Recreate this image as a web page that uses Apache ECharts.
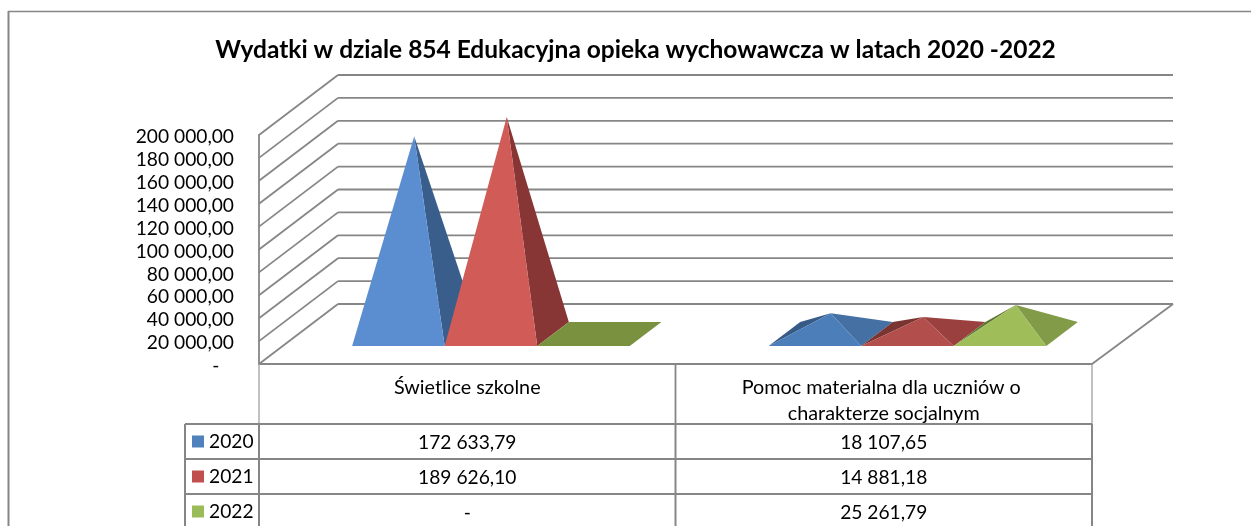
<!DOCTYPE html>
<html>
<head>
<meta charset="utf-8">
<style>html,body{margin:0;padding:0;background:#fff;overflow:hidden}#c{width:1251px;height:526px}</style>
<script src="https://cdn.jsdelivr.net/npm/echarts@6/dist/echarts.min.js"></script>
</head>
<body>
<div id="c"></div>
<script>
var titleText = 'Wydatki w dziale 854 Edukacyjna opieka wychowawcza w latach 2020 -2022';
var categories = ['Świetlice szkolne', 'Pomoc materialna dla uczniów o charakterze socjalnym'];
var years = ['2020', '2021', '2022'];
var values2020 = [172633.79, 18107.65];
var values2021 = [189626.10, 14881.18];
var values2022 = [0, 25261.79];
var yTicks = [0, 20000, 40000, 60000, 80000, 100000, 120000, 140000, 160000, 180000, 200000];

var seriesValues = [values2020, values2021, values2022];
var FONT = 'Lato, Carlito, sans-serif';
var FS = 19.2;
var GRAY = '#868686';
var DX = 79, DY = -60;            // oblique depth of the 3D box
var NEAR = 0.3, FAR = 0.7;        // where the pyramid bases sit within the depth
var ROW_TOP = 424, ROW_H = 35, LEGEND_LEFT = 185;
var shades = [
  {front:'#5B8ED1', right:'#3A5E8C', frontLow:'#4C7EBA', rightLow:'#4470A4', left:'#375A86', flat:'#4F81BD', key:'#4F81BD'},
  {front:'#D05B57', right:'#873535', frontLow:'#B24E4B', rightLow:'#9A403E', left:'#7A3432', flat:'#C0504D', key:'#C0504D'},
  {front:'#9FBE5A', right:'#819B49', frontLow:'#9FBE5A', rightLow:'#819B49', left:'#5E7534', flat:'#7A9140', key:'#9BBB59'}
];
var LOW = 100000;

function fmt(v){
  if (!v) return '-';
  var p = v.toFixed(2).split('.');
  return p[0].replace(/\B(?=(\d{3})+$)/g, ' ') + ',' + p[1];
}
function poly(points, fill){
  return {type:'polygon', shape:{points:points}, style:{fill:fill, stroke:null}};
}
function line(x1,y1,x2,y2,w,c){
  return {type:'line', shape:{x1:x1,y1:y1,x2:x2,y2:y2}, style:{stroke:c||GRAY, lineWidth:w||1.8, fill:null}};
}
function pyramidRenderer(idx){
  return function(params, api){
    var cat = api.value(0), val = api.value(1), s = shades[idx];
    var w = api.size([1,0])[0] / (years.length + 1.5);
    var base = api.coord([cat, 0]);
    var top = api.coord([cat, val]);
    var left = base[0] + (idx - years.length/2) * w;
    var FL = [left + DX*NEAR, base[1] + DY*NEAR], FR = [FL[0] + w, FL[1]];
    var BL = [left + DX*FAR, base[1] + DY*FAR], BR = [BL[0] + w, BL[1]];
    if (!val) return {type:'group', children:[poly([FL,FR,BR,BL], s.flat)]};
    var A = [left + w/2 + DX*0.5, top[1] + DY*0.5];
    var low = val < LOW, kids = [];
    // the left face only shows when the apex falls below the line through its base edge
    var edgeY = FL[1] + (A[0]-FL[0]) * (BL[1]-FL[1]) / (BL[0]-FL[0]);
    if (A[1] > edgeY) kids.push(poly([FL,BL,A], s.left));
    kids.push(poly([FR,BR,A], low ? s.rightLow : s.right));
    kids.push(poly([FL,FR,A], low ? s.frontLow : s.front));
    return {type:'group', children:kids};
  };
}
function wallsRenderer(params, api){
  var cs = params.coordSys, kids = [];
  yTicks.forEach(function(t){
    var y = api.coord([0,t])[1];
    kids.push(line(cs.x, y, cs.x+DX, y+DY));
    kids.push(line(cs.x+DX, y+DY, cs.x+cs.width+DX+2, y+DY));
  });
  var y0 = api.coord([0,0])[1];
  kids.push(line(cs.x+cs.width, y0, cs.x+cs.width+DX+2, y0+DY));
  return {type:'group', children:kids};
}
function tableRenderer(params, api){
  var cs = params.coordSys, kids = [];
  var bottom = ROW_TOP + ROW_H*years.length;
  var y0 = cs.y + cs.height;
  // header verticals and body verticals at the band boundaries
  for (var i=0;i<=categories.length;i++){
    var x = cs.x + cs.width*i/categories.length;
    var inner = i>0 && i<categories.length;
    kids.push(line(x, y0, x, ROW_TOP, inner?1.8:1.3, inner?GRAY:'#A0A0A0'));
    kids.push(line(x, ROW_TOP, x, bottom, 2));
  }
  kids.push(line(LEGEND_LEFT, ROW_TOP, LEGEND_LEFT, bottom, 2));
  for (var r=0;r<=years.length;r++){
    var y = ROW_TOP + r*ROW_H;
    kids.push(line(LEGEND_LEFT, y, cs.x+cs.width, y, 1.8));
  }
  seriesValues.forEach(function(vals,r){
    vals.forEach(function(v,c){
      kids.push({type:'text', style:{text:fmt(v), x:api.coord([c,0])[0], y:ROW_TOP+ROW_H*r+ROW_H/2+1,
        align:'center', verticalAlign:'middle', fill:'#000', font:FS+'px '+FONT}});
    });
  });
  return {type:'group', children:kids};
}

var series = [
  {name:'walls', type:'custom', coordinateSystem:'cartesian2d', data:[[0,0]], renderItem:wallsRenderer, silent:true, z:1, clip:false, animation:false},
  {name:'table', type:'custom', coordinateSystem:'cartesian2d', data:[[0,0]], renderItem:tableRenderer, silent:true, z:1, clip:false, animation:false}
];
years.forEach(function(y,i){
  series.push({
    name:y, type:'custom', coordinateSystem:'cartesian2d', renderItem:pyramidRenderer(i),
    itemStyle:{color:shades[i].key}, silent:true, z:5+i, clip:false, animation:false,
    data: categories.map(function(c,k){ return [k, seriesValues[i][k]]; })
  });
});

var chart = echarts.init(document.getElementById('c'), null, {renderer:'canvas', width:1251, height:526});
chart.setOption({
  animation:false,
  backgroundColor:'#fff',
  title:{text:titleText, left:630.5, textAlign:'center', top:33,
    textStyle:{fontFamily:FONT, fontWeight:'bold', fontSize:24.5, color:'#000'}},
  legend:{data:years, orient:'vertical', left:192, top:432, itemWidth:12, itemHeight:12, itemGap:16,
    icon:'rect', selectedMode:false, padding:0,
    textStyle:{fontFamily:FONT, fontSize:FS, color:'#000', padding:0}},
  tooltip:{show:false},
  grid:{left:259, top:135, width:833, height:229, containLabel:false},
  xAxis:{type:'category', data:categories, boundaryGap:true,
    axisLine:{show:true, lineStyle:{color:GRAY, width:1.8}}, axisTick:{show:false}, splitLine:{show:false},
    axisLabel:{interval:0, margin:11, width:310, overflow:'break', lineHeight:26, color:'#000', fontFamily:FONT, fontSize:19.8}},
  yAxis:{type:'value', min:0, max:200000, interval:20000,
    axisLine:{show:true, lineStyle:{color:GRAY, width:1.8}}, axisTick:{show:false}, splitLine:{show:false},
    axisLabel:{margin:25, color:'#000', fontFamily:FONT, fontSize:FS, verticalAlign:'top', lineHeight:4,
      formatter:function(v){ return v===0 ? '-   ' : fmt(v); }}},
  graphic:[
    {type:'line', shape:{x1:8,y1:11.5,x2:1251,y2:11.5}, style:{stroke:GRAY,lineWidth:1.5}},
    {type:'line', shape:{x1:8.5,y1:11,x2:8.5,y2:526}, style:{stroke:GRAY,lineWidth:2}}
  ],
  series:series
});
</script>
</body>
</html>
